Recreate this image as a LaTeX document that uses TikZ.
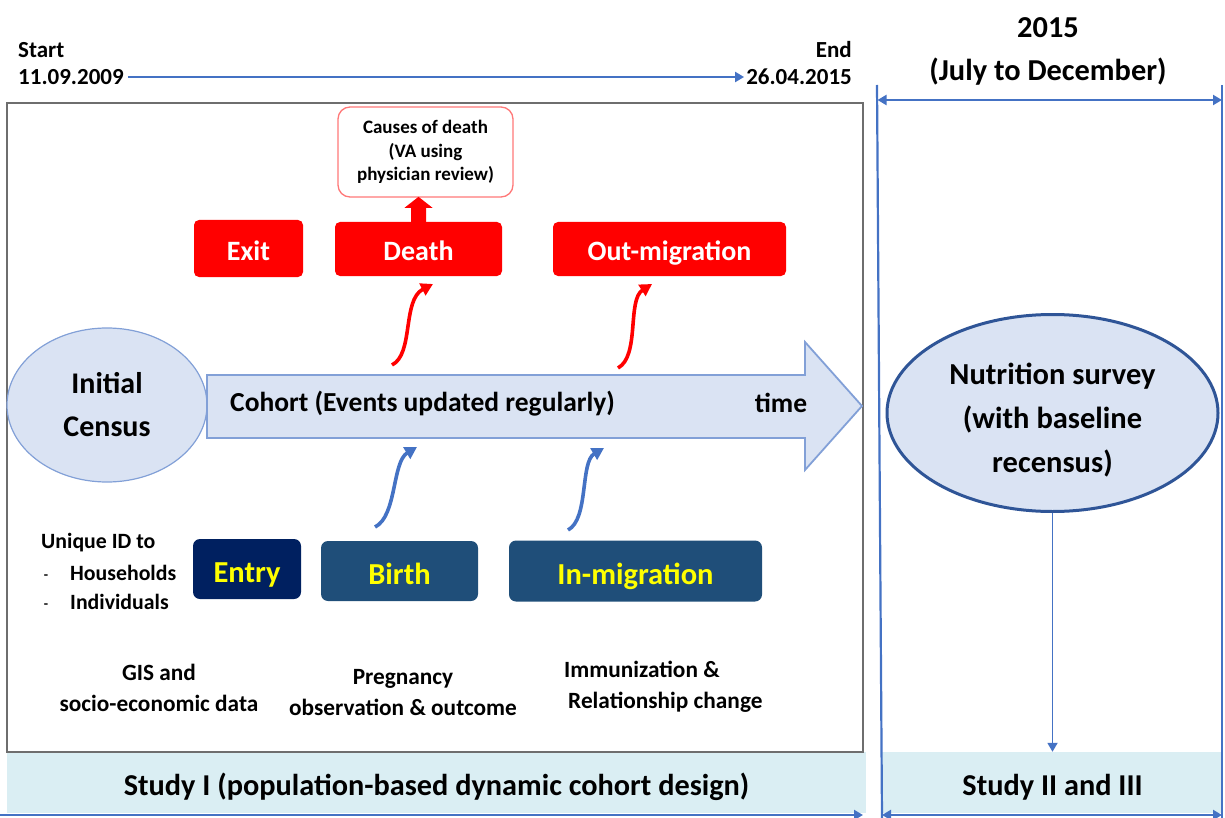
\documentclass[tikz,border=0pt]{standalone}
\usepackage{fontspec}
\setmainfont{Carlito}
\usetikzlibrary{arrows.meta,shapes.geometric}
\definecolor{lineblue}{RGB}{68,114,196}
\definecolor{palefill}{RGB}{218,227,243}
\definecolor{bandfill}{RGB}{218,238,243}
\definecolor{navybox}{RGB}{0,32,96}
\definecolor{steelbox}{RGB}{31,78,121}
\definecolor{darkborder}{RGB}{47,85,151}
\definecolor{lightborder}{RGB}{130,160,215}
\definecolor{pinkborder}{RGB}{255,120,120}
\definecolor{boxgray}{RGB}{110,110,110}
\definecolor{txtyellow}{RGB}{255,255,0}
\begin{document}
\begin{tikzpicture}[x=1pt,y=-1pt,font=\bfseries,
  txt/.style={inner sep=0,align=center},
  redbox/.style={fill=red,rounded corners=5pt,text=white,inner sep=0,text height=24pt,text depth=0pt,font=\bfseries\fontsize{28}{32}\selectfont},
  bluebox/.style={rounded corners=7pt,text=txtyellow,inner sep=0,text height=27.5pt,text depth=0pt,font=\bfseries\fontsize{30.5}{36}\selectfont},
  band/.style={fill=bandfill,inner sep=0,text height=26.7pt,text depth=0pt,font=\bfseries\fontsize{30.3}{34}\selectfont},
  blueline/.style={draw=lineblue,line width=2.2pt},
  tipA/.style={-{Triangle[length=9pt,width=10pt]}},
  curvered/.style={draw=red,line width=3.6pt,-{Triangle[length=12pt,width=13pt]}},
  curveblue/.style={draw=lineblue,line width=3.6pt,-{Triangle[length=12pt,width=13pt]}},
  small/.style={txt,font=\bfseries\fontsize{23.3}{31}\selectfont},
  idtext/.style={txt,font=\bfseries\fontsize{21.8}{25}\selectfont},
]
\useasboundingbox (0,0) rectangle (1225,818);

% bands and main box
\node[band,minimum width=859pt,minimum height=61pt] (band1) at (436.5,782.5)
  {Study I (population-based dynamic cohort design)};
\node[band,minimum width=341pt,minimum height=61pt] (band2) at (1052.5,782.5)
  {Study II and III};
\node[draw=boxgray,line width=1.5pt,minimum width=856pt,minimum height=649pt,inner sep=0] (mainbox) at (435,427.5) {};

% timeline
\node[txt,anchor=west,font=\bfseries\fontsize{23}{28}\selectfont] (start) at (18,50) {Start};
\node[txt,anchor=west,font=\bfseries\fontsize{23}{28}\selectfont] (d1) at (18,77) {11.09.2009};
\node[txt,anchor=east,font=\bfseries\fontsize{23}{28}\selectfont] (endl) at (852,50) {End};
\node[txt,anchor=east,font=\bfseries\fontsize{23}{28}\selectfont] (d2) at (852,77) {26.04.2015};
\draw[blueline,tipA] ([xshift=4pt]d1.east) -- ([xshift=-2pt]d2.west);

% right header
\node[txt,font=\bfseries\fontsize{30.4}{34}\selectfont] (yr) at (1048,28) {2015};
\node[txt,font=\bfseries\fontsize{30.4}{34}\selectfont] (months) at (1048,72) {(July to December)};
\coordinate (vlt) at (877,85);
\coordinate (vlb) at (882,818);
\coordinate (vrt) at (1222,85);
\coordinate (vrb) at (1222,818);
\draw[blueline] (vlt) -- (vlb);
\draw[blueline] (vrt) -- (vrb);
\draw[blueline,{Triangle[length=9pt,width=10pt]}-{Triangle[length=9pt,width=10pt]}] (877.5,100) -- (1222,100);
\draw[blueline,{Triangle[length=9pt,width=10pt]}-{Triangle[length=9pt,width=10pt]}] (882,815) -- (1222,815);
\draw[blueline,tipA] (0,815) -- (863,815);

% initial census and cohort arrow
\node[ellipse,draw=lightborder,fill=palefill,line width=1.2pt,minimum width=200pt,minimum height=154pt,inner sep=0,
  font=\bfseries\fontsize{30}{43}\selectfont,align=center] (initial) at (107,405) {Initial\\Census};
\fill[palefill] (207,375) -- (805,375) -- (805,342) -- (862,406) -- (805,470) -- (805,438) -- (207,438) -- cycle;
\draw[lightborder,line width=1.8pt] (207,375) -- (805,375) -- (805,342) -- (862,406) -- (805,470) -- (805,438) -- (207,438) -- cycle;
\node[txt,anchor=west,font=\bfseries\fontsize{27.5}{32}\selectfont] (cohort) at (230,404) {Cohort (Events updated regularly)};
\node[txt,font=\bfseries\fontsize{27.5}{32}\selectfont] (time) at (781,403) {time};

% red event boxes
\node[redbox,minimum width=109pt,minimum height=57pt] (exit) at (248.5,248.5) {Exit};
\node[redbox,minimum width=167pt,minimum height=54pt] (death) at (418.5,249) {Death};
\node[redbox,minimum width=233pt,minimum height=54pt] (outmig) at (669.5,249) {Out-migration};
\node[draw=pinkborder,fill=white,line width=1.3pt,rounded corners=12pt,minimum width=175pt,minimum height=90pt,
  inner sep=0,align=center,font=\bfseries\fontsize{19}{23.5}\selectfont] (causes) at (425.5,152)
  {Causes of death\\(VA using\\physician review)};
\fill[red] (death.north) ++(-7.5,0) -- ++(0,-14) -- ++(-6.5,0) -- ++(14,-11) -- ++(14,11) -- ++(-6.5,0) -- ++(0,14) -- cycle;

% blue event boxes
\node[bluebox,fill=navybox,minimum width=108pt,minimum height=60pt] (entry) at (247,569) {Entry};
\node[bluebox,fill=steelbox,minimum width=157pt,minimum height=60pt] (birth) at (399.5,571) {Birth};
\node[bluebox,fill=steelbox,minimum width=253pt,minimum height=61pt] (inmig) at (635.5,571) {In-migration};

% curved arrows
\coordinate (r1s) at (392,365); \coordinate (r1e) at (433,284);
\coordinate (r2s) at (618,368); \coordinate (r2e) at (652,284);
\coordinate (b1s) at (375,527); \coordinate (b1e) at (417,447);
\coordinate (b2s) at (568,530); \coordinate (b2e) at (604,448);
\draw[curvered] (r1s) .. controls (414,354) and (402,300) .. (r1e);
\draw[curvered] (r2s) .. controls (640,356) and (627,300) .. (r2e);
\draw[curveblue] (b1s) .. controls (397,516) and (392,462) .. (b1e);
\draw[curveblue] (b2s) .. controls (589,519) and (580,462) .. (b2e);

% left ID list
\node[idtext,anchor=west] (uid) at (41,543) {Unique ID to};
\node[txt,font=\bfseries\fontsize{14}{16}\selectfont] (dash1) at (46,577) {-};
\node[idtext,anchor=west] (hh) at (70,573) {Households};
\node[txt,font=\bfseries\fontsize{14}{16}\selectfont] (dash2) at (46,606) {-};
\node[idtext,anchor=west] (ind) at (70,602) {Individuals};

% bottom labels
\node[small] (gis) at (159,688) {GIS and\\socio-economic data};
\node[small] (preg) at (403,693) {Pregnancy\\observation \& outcome};
\node[small,align=left,anchor=west] (immun) at (564,687) {Immunization \&\\\hspace*{4pt}Relationship change};

% nutrition survey
\node[ellipse,draw=darkborder,fill=palefill,line width=3pt,minimum width=331pt,minimum height=197pt,inner sep=0] (nutr) at (1052.5,413) {};
\node[txt,font=\bfseries\fontsize{30.5}{44}\selectfont] (nutrtxt) at (1052.5,420) {Nutrition survey\\(with baseline\\recensus)};
\draw[draw=lineblue,line width=1.8pt,-{Triangle[length=9pt,width=10pt]}] (nutr.south) -- (nutr.south |- band2.north);
\end{tikzpicture}
\end{document}
